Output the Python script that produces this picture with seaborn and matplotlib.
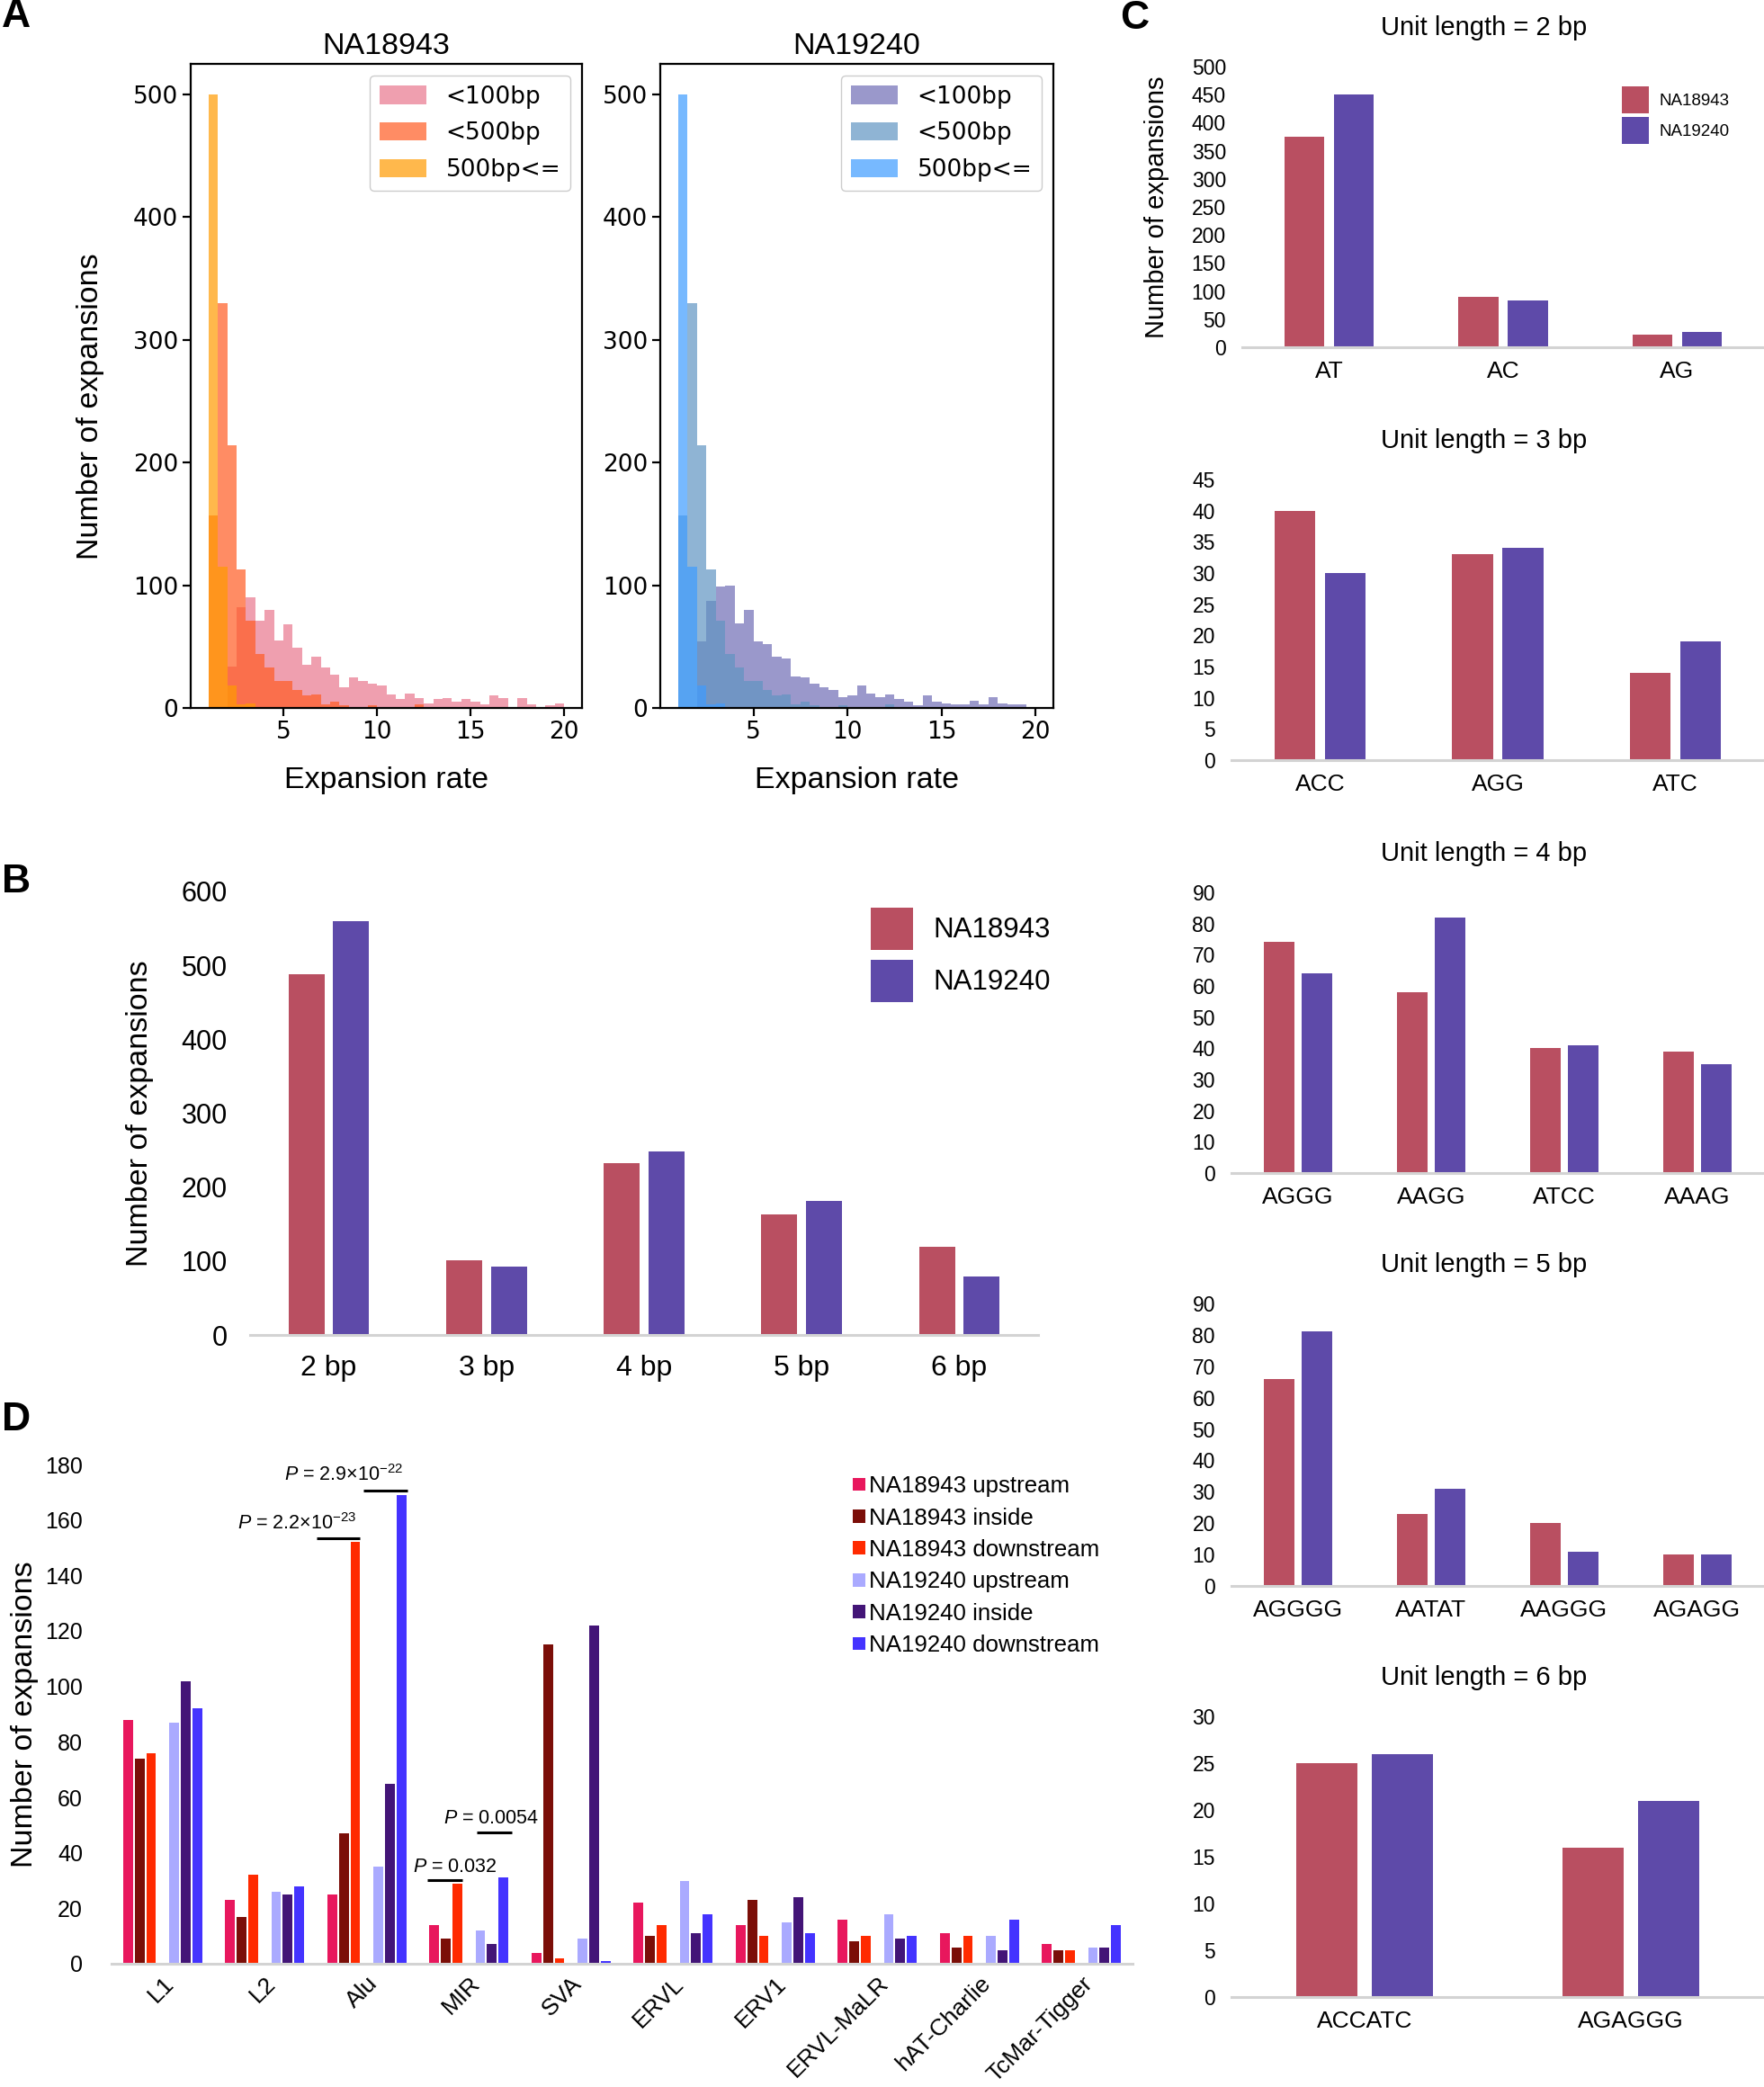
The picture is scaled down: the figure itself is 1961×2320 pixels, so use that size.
"""Tandem-repeat expansion summary figure (panels A-D), redrawn from the published panel."""

import matplotlib
matplotlib.use("Agg")

import matplotlib.pyplot as plt
import numpy as np
import pandas as pd
import seaborn as sns
from matplotlib.patches import Patch

W, H, DPI = 1961, 2320, 100

SANS = ["Liberation Sans", "DejaVu Sans"]
NARROW = ["Liberation Sans Narrow", "Liberation Sans", "DejaVu Sans"]
DEJAVU = ["DejaVu Sans"]

SAMPLES = ["NA18943", "NA19240"]
SAMPLE_COLORS = {"NA18943": "#B94F61", "NA19240": "#5E4AA9"}

# A: expansion-rate histograms (0.5-wide bins from 1 to 20)
BIN_EDGES = np.arange(1.0, 20.01, 0.5)
SIZE_CLASSES = ["<100bp", "<500bp", "500bp<="]
NA18943_LT100 = [0, 0, 34, 82, 90, 71, 80, 55, 68, 49, 35, 42, 33, 27, 17, 25, 22, 20, 18, 11,
                 7, 12, 8, 4, 7, 8, 5, 7, 5, 3, 10, 8, 1, 8, 3, 1, 2, 4]
NA19240_LT100 = [0, 0, 54, 87, 99, 100, 69, 80, 54, 52, 42, 40, 26, 25, 20, 17, 15, 9, 10, 18,
                 12, 9, 11, 7, 5, 2, 10, 5, 4, 3, 3, 6, 3, 9, 4, 3, 3, 0]
LT500 = [157, 330, 214, 113, 71, 44, 33, 22, 22, 15, 10, 11, 3, 5, 2, 0, 0, 2, 0, 1,
         0, 0, 3, 1, 1, 0, 0, 1, 0, 0, 0, 0, 1, 0, 0, 0, 0, 0]
GE500 = [500, 115, 18, 3, 4, 0, 1, 0, 0, 0, 0, 0, 0, 0, 0, 0, 0, 0, 0, 0,
         0, 0, 0, 0, 0, 0, 0, 0, 0, 0, 0, 0, 0, 0, 0, 0, 0, 0]
PALETTE_18943 = ["#E9778E", "#FF5B22", "#FF9A00"]
PALETTE_19240 = ["#6F6CB6", "#6094C2", "#3E9CFF"]

# B: expansions per unit length
UNIT_LABELS = ["2 bp", "3 bp", "4 bp", "5 bp", "6 bp"]
UNIT_NA18943 = [488, 101, 232, 163, 119]
UNIT_NA19240 = [560, 92, 248, 181, 79]

# C: top motifs per unit length
MOTIFS_2 = ["AT", "AC", "AG"]
MOTIF2_NA18943 = [375, 90, 22]
MOTIF2_NA19240 = [450, 83, 28]
MOTIFS_3 = ["ACC", "AGG", "ATC"]
MOTIF3_NA18943 = [40, 33, 14]
MOTIF3_NA19240 = [30, 34, 19]
MOTIFS_4 = ["AGGG", "AAGG", "ATCC", "AAAG"]
MOTIF4_NA18943 = [74, 58, 40, 39]
MOTIF4_NA19240 = [64, 82, 41, 35]
MOTIFS_5 = ["AGGGG", "AATAT", "AAGGG", "AGAGG"]
MOTIF5_NA18943 = [66, 23, 20, 10]
MOTIF5_NA19240 = [81, 31, 11, 10]
MOTIFS_6 = ["ACCATC", "AGAGGG"]
MOTIF6_NA18943 = [25, 16]
MOTIF6_NA19240 = [26, 21]

# D: expansions around transposable elements
TE_CLASSES = ["L1", "L2", "Alu", "MIR", "SVA", "ERVL", "ERV1", "ERVL-MaLR", "hAT-Charlie", "TcMar-Tigger"]
UP_18943 = [88, 23, 25, 14, 4, 22, 14, 16, 11, 7]
IN_18943 = [74, 17, 47, 9, 115, 10, 23, 8, 6, 5]
DOWN_18943 = [76, 32, 152, 29, 2, 14, 10, 10, 10, 5]
UP_19240 = [87, 26, 35, 12, 9, 30, 15, 18, 10, 6]
IN_19240 = [102, 25, 65, 7, 122, 11, 24, 9, 5, 6]
DOWN_19240 = [92, 28, 169, 31, 1, 18, 11, 10, 16, 14]
TE_GROUPS = ["NA18943 upstream", "NA18943 inside", "NA18943 downstream",
             "NA19240 upstream", "NA19240 inside", "NA19240 downstream"]
TE_COLORS = ["#E8175D", "#7B0E08", "#FF2A00", "#AAAAFF", "#431577", "#4433FF"]

# (class, line start, line end, line y, label, label right edge, label baseline)
P_NOTES = [
  ("Alu", -0.49, -0.07, 153.5, r"$P$ = 2.2×10$^{-23}$", -0.10, 156.5),
  ("Alu", -0.03, 0.40, 170.7, r"$P$ = 2.9×10$^{-22}$", 0.36, 174.0),
  ("MIR", -0.41, -0.06, 30.2, r"$P$ = 0.032", 0.28, 33.0),
  ("MIR", 0.075, 0.42, 47.5, r"$P$ = 0.0054", 0.685, 50.5),
]


def frame(fig, left, top, right, bottom):
  return fig.add_axes([left / W, 1 - bottom / H, (right - left) / W, (bottom - top) / H])


def flat(ax):
  sns.despine(ax = ax, left = True)
  ax.spines["bottom"].set_color("#D3D3D3")
  ax.spines["bottom"].set_linewidth(2.2)
  ax.tick_params(length = 0)
  ax.set_xlabel("")
  ax.set_ylabel("")


def histogram(ax, title, small, palette, ylabel):
  centers = BIN_EDGES[:-1] + 0.25
  edges = BIN_EDGES.tolist()
  for counts, color in zip([small, LT500, GE500], palette) :
    df = pd.DataFrame({"rate" : centers, "n" : counts})
    sns.histplot(data = df, x = "rate", weights = "n", bins = edges, color = color, alpha = 0.7,
                 edgecolor = "none", linewidth = 0, ax = ax)
  ax.set_xticks([5, 10, 15, 20], labels = ["5", "10", "15", "20"], fontfamily = DEJAVU, fontsize = 19)
  ax.set_yticks([0, 100, 200, 300, 400, 500], labels = ["0", "100", "200", "300", "400", "500"],
                fontfamily = DEJAVU, fontsize = 19)
  ax.tick_params(direction = "out", length = 6.5, width = 1.6, bottom = True, left = True, color = "black")
  for spine in ax.spines.values() :
    spine.set_color("black")
    spine.set_linewidth(1.6)
  ax.set_title(title, fontsize = 24.5, pad = 8)
  ax.set_xlabel("Expansion rate", fontsize = 24.5)
  ax.xaxis.set_label_coords(0.5, -0.112)
  ax.xaxis.label.set_va("center")
  ax.set_ylabel(ylabel, fontsize = 24.5)
  ax.yaxis.set_label_coords(-0.257, 0.469)
  ax.yaxis.label.set_va("center")
  handles = [Patch(facecolor = c, alpha = 0.7, edgecolor = "none", label = l) for c, l in zip(palette, SIZE_CLASSES)]
  ax.legend(handles = handles, loc = "upper right", prop = {"family": DEJAVU, "size": 19},
            edgecolor = "#CCCCCC", framealpha = 1, labelspacing = 0.55, handleheight = 0.8)


def paired(ax, labels, first, second, top, step, ticksize, labelsize, ypad, xpad):
  df = pd.DataFrame({
    "label" : labels * 2,
    "sample" : [SAMPLES[0]] * len(labels) + [SAMPLES[1]] * len(labels),
    "count" : list(first) + list(second),
  })
  sns.barplot(data = df, x = "label", y = "count", hue = "sample", hue_order = SAMPLES,
              palette = SAMPLE_COLORS, saturation = 1, width = 0.566, gap = 0.19,
              errorbar = None, legend = False, linewidth = 0, ax = ax)
  flat(ax)
  ax.set_xlim(-0.5, len(labels) - 0.5)
  ax.set_ylim(0, top)
  ticks = list(range(0, top + 1, step))
  ax.set_yticks(ticks, labels = [str(t) for t in ticks], fontfamily = NARROW, fontsize = ticksize)
  ax.set_xticks(range(len(labels)), labels = labels, fontfamily = NARROW, fontsize = labelsize)
  ax.tick_params(axis = "y", pad = ypad)
  ax.tick_params(axis = "x", pad = xpad)


def sample_legend(ax, anchor, size, handle, height, spacing, textpad):
  handles = [Patch(facecolor = SAMPLE_COLORS[s], edgecolor = "none", label = s) for s in SAMPLES]
  ax.legend(handles = handles, loc = "upper left", bbox_to_anchor = anchor, frameon = False,
            borderaxespad = 0, borderpad = 0, handlelength = handle, handleheight = height,
            labelspacing = spacing, handletextpad = textpad, prop = {"family": NARROW, "size": size})


def transposons(ax):
  spacer = "spacer"
  order = TE_GROUPS[:3] + [spacer] + TE_GROUPS[3:]
  columns = [UP_18943, IN_18943, DOWN_18943, [0] * len(TE_CLASSES), UP_19240, IN_19240, DOWN_19240]
  df = pd.DataFrame({
    "class" : TE_CLASSES * len(order),
    "group" : [g for g in order for _ in TE_CLASSES],
    "count" : [v for col in columns for v in col],
  })
  palette = dict(zip(TE_GROUPS, TE_COLORS))
  palette[spacer] = "#FFFFFF"
  sns.barplot(data = df, x = "class", y = "count", hue = "group", hue_order = order,
              palette = palette, saturation = 1, width = 0.79, gap = 0.16,
              errorbar = None, legend = False, linewidth = 0, ax = ax)
  flat(ax)
  for cls, x0, x1, y, text, tx, ty in P_NOTES :
    c = TE_CLASSES.index(cls)
    ax.plot([c + x0, c + x1], [y, y], color = "black", linewidth = 2.2, solid_capstyle = "butt")
    ax.text(c + tx, ty, text, ha = "right", va = "baseline", fontsize = 15.5)
  ax.set_xlim(-0.5, len(TE_CLASSES) - 0.5)
  ax.set_ylim(0, 180)
  ticks = list(range(0, 181, 20))
  ax.set_yticks(ticks, labels = [str(t) for t in ticks], fontsize = 18)
  ax.set_xticks(range(len(TE_CLASSES)), labels = TE_CLASSES, fontsize = 19, rotation = 45,
                ha = "right", rotation_mode = "anchor")
  ax.tick_params(axis = "y", pad = 23)
  ax.tick_params(axis = "x", pad = 7)
  ax.set_ylabel("Number of expansions", fontsize = 24.5)
  ax.yaxis.set_label_coords(-0.085, 0.5)
  ax.yaxis.label.set_va("center")
  handles = [Patch(facecolor = c, edgecolor = "none", label = g) for g, c in zip(TE_GROUPS, TE_COLORS)]
  ax.legend(handles = handles, loc = "upper left", bbox_to_anchor = (0.726, 0.978), frameon = False,
            borderaxespad = 0, borderpad = 0, handlelength = 0.55, handleheight = 0.5,
            labelspacing = 0.44, handletextpad = 0.15, prop = {"family": NARROW, "size": 18.6})


def main():
  sns.set_style("white")
  plt.rcParams.update({
    "font.family" : SANS,
    "mathtext.fontset" : "custom",
    "mathtext.rm" : "Liberation Sans",
    "mathtext.it" : "Liberation Sans:italic",
    "mathtext.bf" : "Liberation Sans:bold",
    "text.color" : "black",
    "axes.labelcolor" : "black",
    "xtick.color" : "black",
    "ytick.color" : "black",
  })
  fig = plt.figure(figsize = (W / DPI, H / DPI), dpi = DPI)

  # A
  histogram(frame(fig, 212, 71, 647, 787), "NA18943", NA18943_LT100, PALETTE_18943, "Number of expansions")
  histogram(frame(fig, 734, 71, 1171, 787), "NA19240", NA19240_LT100, PALETTE_19240, "")

  # B
  ax = frame(fig, 278, 991, 1154, 1484)
  paired(ax, UNIT_LABELS, UNIT_NA18943, UNIT_NA19240, 600, 100, 22, 23, 18, 16)
  ax.set_ylabel("Number of expansions", fontsize = 24.5)
  ax.yaxis.set_label_coords(-0.140, 0.5)
  ax.yaxis.label.set_va("center")
  sample_legend(ax, (0.788, 0.9635), 22.5, 1.5, 1.94, 0.34, 0.7)

  # C
  panels = [
    (74, 386, 1381, MOTIFS_2, MOTIF2_NA18943, MOTIF2_NA19240, 500, 50, "Unit length = 2 bp"),
    (533, 845, 1369, MOTIFS_3, MOTIF3_NA18943, MOTIF3_NA19240, 45, 5, "Unit length = 3 bp"),
    (992, 1304, 1369, MOTIFS_4, MOTIF4_NA18943, MOTIF4_NA19240, 90, 10, "Unit length = 4 bp"),
    (1449, 1763, 1369, MOTIFS_5, MOTIF5_NA18943, MOTIF5_NA19240, 90, 10, "Unit length = 5 bp"),
    (1908, 2220, 1369, MOTIFS_6, MOTIF6_NA18943, MOTIF6_NA19240, 30, 5, "Unit length = 6 bp"),
  ]
  for i, (top, bottom, left, labels, first, second, ymax, step, title) in enumerate(panels) :
    ax = frame(fig, left, top, W, bottom)
    paired(ax, labels, first, second, ymax, step, 16.5, 19, 13, 11)
    ax.set_title(title, fontfamily = NARROW, fontsize = 21, pad = 25, x = (1650 - left) / (W - left))
    if i == 0 :
      ax.set_ylabel("Number of expansions", fontsize = 21)
      ax.yaxis.set_label_coords(-0.164, 0.5)
      ax.yaxis.label.set_va("center")
      sample_legend(ax, (0.728, 0.929), 13.5, 1.6, 2.08, 0.21, 0.6)

  # D
  transposons(frame(fig, 124, 1628, 1259, 2183))

  for letter, x, y in [("A", 18, 19), ("B", 18, 981), ("C", 1261, 21), ("D", 18, 1578)] :
    fig.text(x / W, 1 - y / H, letter, fontsize = 32, fontweight = "bold", ha = "center", va = "center")

  fig.savefig("out.png", dpi = DPI)
  plt.close(fig)


if __name__ == "__main__" :
  main()
